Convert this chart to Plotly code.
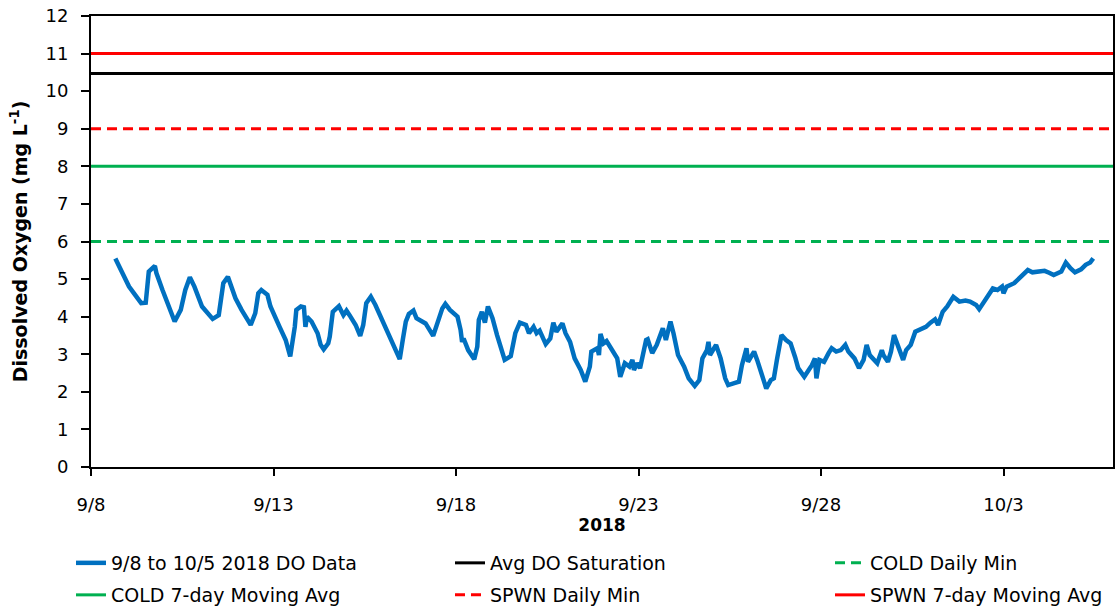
import pandas as pd
import plotly.graph_objects as go

# ---------------- data ----------------
start = pd.Timestamp("2018-09-08")
end = pd.Timestamp("2018-10-06")

hours_since_start = [
    16, 20, 25, 29, 33, 36, 38, 42, 43, 47, 51, 55, 59, 62, 65, 68, 73, 76, 80, 84,
    87, 90, 92, 95, 99, 105, 108, 110, 112, 116, 118, 121, 124, 128, 131, 134, 135, 138, 140, 141,
    142, 145, 149, 151, 153, 156, 157, 159, 163, 166, 168, 170, 174, 177, 179, 181, 184, 187, 190, 192,
    196, 199, 203, 205, 207, 209, 212, 214, 218, 220, 225, 227, 231, 233, 236, 241, 243, 244, 245, 248,
    252, 254, 255, 257, 259, 261, 264, 267, 269, 272, 276, 279, 282, 286, 288, 291, 293, 295, 299, 302,
    304, 306, 310, 312, 315, 318, 322, 325, 328, 329, 333, 334, 335, 337, 339, 343, 346, 348, 351, 354,
    356, 357, 359, 361, 365, 366, 369, 372, 376, 378, 381, 383, 386, 390, 393, 397, 400, 402, 405, 406,
    407, 411, 414, 417, 419, 423, 426, 428, 431, 432, 436, 438, 441, 444, 447, 449, 451, 454, 457, 460,
    463, 465, 469, 472, 474, 476, 477, 479, 482, 485, 487, 490, 493, 496, 498, 502, 505, 508, 510, 512,
    515, 517, 520, 521, 524, 526, 528, 530, 532, 534, 536, 539, 542, 545, 549, 552, 555, 557, 560, 563,
    567, 571, 575, 578, 582, 584, 588, 593, 596, 599, 600, 602, 607, 611, 616, 619, 623, 627, 630, 633,
    638, 641, 644, 647, 651, 654, 657, 659,
]
do_mg_l = [
    5.55, 5.24, 4.80, 4.58, 4.36, 4.37, 5.20, 5.35, 5.16, 4.71, 4.27, 3.87, 4.18, 4.71, 5.05, 4.80, 4.27, 4.13, 3.94, 4.04,
    4.89, 5.06, 4.84, 4.49, 4.18, 3.78, 4.09, 4.62, 4.71, 4.58, 4.27, 3.96, 3.73, 3.38, 2.94, 3.73, 4.18, 4.27, 4.25, 3.73,
    4.00, 3.87, 3.56, 3.25, 3.13, 3.29, 3.47, 4.13, 4.28, 4.04, 4.16, 4.04, 3.78, 3.49, 3.78, 4.36, 4.53, 4.31, 4.04, 3.82,
    3.47, 3.16, 2.87, 3.38, 3.87, 4.07, 4.16, 3.96, 3.87, 3.82, 3.49, 3.73, 4.22, 4.34, 4.18, 4.00, 3.65, 3.33, 3.42, 3.11,
    2.87, 3.20, 3.91, 4.13, 3.84, 4.27, 3.96, 3.51, 3.20, 2.85, 2.95, 3.56, 3.84, 3.78, 3.56, 3.73, 3.56, 3.63, 3.27, 3.42,
    3.84, 3.60, 3.82, 3.56, 3.33, 2.89, 2.58, 2.27, 2.67, 3.07, 3.16, 2.98, 3.54, 3.29, 3.35, 3.07, 2.89, 2.40, 2.76, 2.67,
    2.85, 2.58, 2.76, 2.63, 3.38, 3.40, 3.03, 3.25, 3.69, 3.38, 3.87, 3.56, 2.98, 2.67, 2.36, 2.16, 2.31, 2.89, 3.11, 3.33,
    2.98, 3.25, 2.89, 2.36, 2.18, 2.23, 2.27, 2.71, 3.16, 2.80, 3.07, 2.85, 2.45, 2.09, 2.31, 2.36, 2.85, 3.51, 3.38, 3.29,
    2.92, 2.63, 2.40, 2.58, 2.71, 2.89, 2.36, 2.85, 2.80, 3.03, 3.16, 3.07, 3.11, 3.25, 3.07, 2.89, 2.63, 2.85, 3.25, 2.98,
    2.85, 2.76, 3.11, 2.98, 2.80, 3.07, 3.51, 3.29, 3.03, 2.85, 3.11, 3.25, 3.60, 3.65, 3.73, 3.84, 3.93, 3.78, 4.13, 4.27,
    4.53, 4.40, 4.43, 4.40, 4.31, 4.20, 4.44, 4.75, 4.71, 4.80, 4.62, 4.80, 4.89, 5.06, 5.24, 5.18, 5.20, 5.22, 5.17, 5.11,
    5.20, 5.44, 5.29, 5.18, 5.26, 5.38, 5.44, 5.55,
]

avg_do_saturation = 10.47
cold_daily_min = 6.0
cold_7day_avg = 8.0
spwn_daily_min = 9.0
spwn_7day_avg = 11.0

series_names = [
    "9/8 to 10/5 2018 DO Data",
    "Avg DO Saturation",
    "COLD Daily Min",
    "COLD 7-day Moving Avg",
    "SPWN Daily Min",
    "SPWN 7-day Moving Avg",
]
x_tick_labels = ["9/8", "9/13", "9/18", "9/23", "9/28", "10/3"]
y_tick_values = list(range(0, 13))

# ---------------- figure ----------------
times = [start + pd.Timedelta(hours=h) for h in hours_since_start]
x_tick_values = [start + pd.Timedelta(days=5 * i) for i in range(len(x_tick_labels))]
span = [start, end]

BLUE = "#0070C0"
GREEN = "#00B050"
RED = "#FF0000"
FONT = "DejaVu Sans"

fig = go.Figure()
fig.add_trace(go.Scatter(x=times, y=do_mg_l, mode="lines", name=series_names[0],
                         line=dict(color=BLUE, width=4.5), legend="legend"))
fig.add_trace(go.Scatter(x=span, y=[avg_do_saturation] * 2, mode="lines", name=series_names[1],
                         line=dict(color="black", width=3), legend="legend2"))
fig.add_trace(go.Scatter(x=span, y=[cold_daily_min] * 2, mode="lines", name=series_names[2],
                         line=dict(color=GREEN, width=3, dash="10px,6px"), legend="legend3"))
fig.add_trace(go.Scatter(x=span, y=[cold_7day_avg] * 2, mode="lines", name=series_names[3],
                         line=dict(color=GREEN, width=3), legend="legend4"))
fig.add_trace(go.Scatter(x=span, y=[spwn_daily_min] * 2, mode="lines", name=series_names[4],
                         line=dict(color=RED, width=3, dash="10px,6px"), legend="legend5"))
fig.add_trace(go.Scatter(x=span, y=[spwn_7day_avg] * 2, mode="lines", name=series_names[5],
                         line=dict(color=RED, width=3), legend="legend6"))

L, R, T, B = 91, 4, 16, 142
W, H = 1117, 609
pw, ph = W - L - R, H - T - B


def px_x(p):
    return (p - L) / pw


def px_y(p):
    return (H - B - p) / ph


leg_font = dict(family=FONT, size=19, color="black")
col_text_x = [111, 490, 870]
row_y = [563, 595]
legends = {}
for i in range(6):
    row, col = divmod(i, 3)
    key = "legend" if i == 0 else f"legend{i + 1}"
    legends[key] = dict(
        x=px_x(col_text_x[col] - 40), y=px_y(row_y[row]),
        xanchor="left", yanchor="middle",
        font=leg_font, bgcolor="rgba(0,0,0,0)", borderwidth=0,
        orientation="h",
    )

fig.update_layout(
    width=W, height=H,
    margin=dict(l=L, r=R, t=T, b=B, autoexpand=False),
    paper_bgcolor="white", plot_bgcolor="white",
    font=dict(family=FONT, size=18, color="black"),
    showlegend=True,
    **legends,
)

fig.update_xaxes(
    range=[start, end],
    tickvals=x_tick_values, ticktext=x_tick_labels,
    showgrid=False, zeroline=False,
    showline=True, linecolor="black", linewidth=2, mirror=True,
    ticks="outside", ticklen=7, tickwidth=2, tickcolor="black",
    tickfont=dict(family=FONT, size=18),
    ticklabelstandoff=13,
    title=dict(text="<b>2018</b>", font=dict(family=FONT, size=17), standoff=0),
)
fig.update_yaxes(
    range=[0, 12],
    tickvals=y_tick_values,
    showgrid=False, zeroline=False,
    showline=True, linecolor="black", linewidth=2, mirror=True,
    ticks="outside", ticklen=8, tickwidth=2, tickcolor="black",
    tickfont=dict(family=FONT, size=18),
    ticklabelstandoff=9,
    title=dict(text="<b>Dissolved Oxygen (mg L<sup>-1</sup>)</b>", font=dict(family=FONT, size=19), standoff=13),
)

fig.write_html(
    "out.html",
    config={"displayModeBar": False},
    post_script="document.body.style.margin='0';document.body.style.overflow='hidden';",
)
